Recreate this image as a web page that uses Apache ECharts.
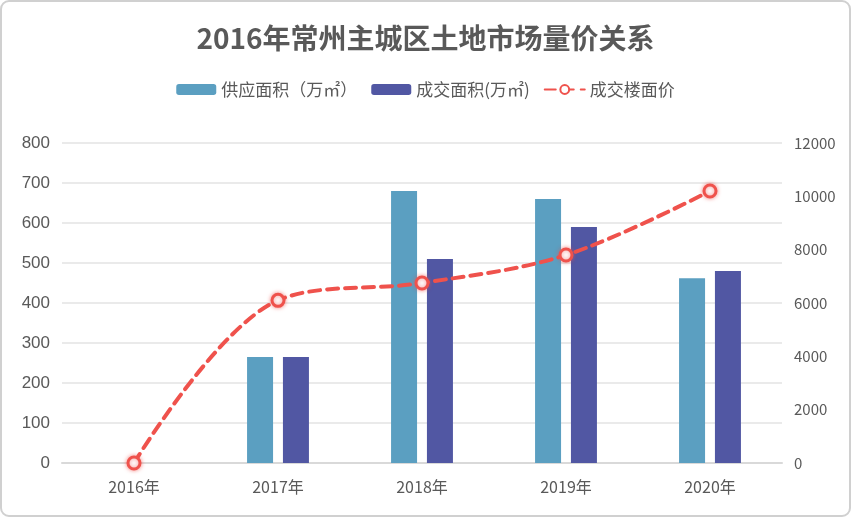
<!DOCTYPE html>
<html><head><meta charset="utf-8">
<script src="https://cdn.jsdelivr.net/npm/echarts@6/dist/echarts.min.js"></script>
<style>html,body{margin:0;padding:0;background:#fff}#c{width:851px;height:517px}</style>
</head><body><div id="c"></div>
<script>
const categories = ['2016年','2017年','2018年','2019年','2020年'];
const supplyArea = [null, 265, 680, 660, 462];
const dealArea = [null, 265, 510, 590, 480];
const dealPrice = [0, 6100, 6750, 7800, 10200];
const leftTicks = {min:0, max:800, interval:100};
const rightTicks = {min:0, max:12000, interval:2000};

const chart = echarts.init(document.getElementById('c'), null, {renderer:'canvas'});
const txt = '#595959';
const font = '"Microsoft YaHei","Noto Sans CJK SC",sans-serif';
chart.setOption({
  backgroundColor:'#fff',
  animation:false,
  title:{text:'2016年常州主城区土地市场量价关系', left:'center', top:19,
    textStyle:{fontSize:28, fontWeight:'bold', color:txt, fontFamily:font}},
  legend:{top:76, left:'center', itemWidth:40, itemHeight:11, itemGap:14,
    textStyle:{fontSize:17, color:txt, fontFamily:font},
    data:['供应面积（万㎡）','成交面积(万㎡)','成交楼面价']},
  graphic:[{type:'rect', shape:{x:1,y:1,width:849,height:515,r:8}, style:{fill:null, stroke:'#d0d0d0', lineWidth:2}, silent:true, z:-1}],
  grid:{left:62, right:69, top:143, bottom:54, containLabel:false},
  xAxis:{type:'category', data:categories,
    axisLine:{lineStyle:{color:'#d9d9d9', width:2}}, axisTick:{show:false},
    axisLabel:{fontSize:16, color:txt, margin:16, fontFamily:font}},
  yAxis:[
    {type:'value', min:leftTicks.min, max:leftTicks.max, interval:leftTicks.interval,
      axisLine:{show:false}, axisTick:{show:false},
      axisLabel:{fontSize:17, color:txt, margin:12, fontFamily:'Arial,"Liberation Sans",sans-serif'},
      splitLine:{lineStyle:{color:'#e3e3e3', width:1.5}}},
    {type:'value', min:rightTicks.min, max:rightTicks.max, interval:rightTicks.interval,
      axisLine:{show:false}, axisTick:{show:false},
      axisLabel:{fontSize:15, color:txt, margin:12, fontFamily:font, formatter:v=>String(v)},
      splitLine:{show:false}}
  ],
  series:[
    {name:'供应面积（万㎡）', type:'bar', data:supplyArea, barWidth:26, barGap:'38%',
      itemStyle:{color:'#5b9fc1'}},
    {name:'成交面积(万㎡)', type:'bar', data:dealArea, barWidth:26,
      itemStyle:{color:'#5157a3'}},
    {name:'成交楼面价', type:'line', yAxisIndex:1, data:dealPrice, smooth:0.35,
      symbol:'circle', symbolSize:12,
      lineStyle:{color:'#ef524c', width:4, type:[11,7], cap:'round'},
      itemStyle:{color:'#fff', borderColor:'#ef524c', borderWidth:3, shadowColor:'rgba(239,82,76,0.6)', shadowBlur:4}}
  ]
});
</script></body></html>
